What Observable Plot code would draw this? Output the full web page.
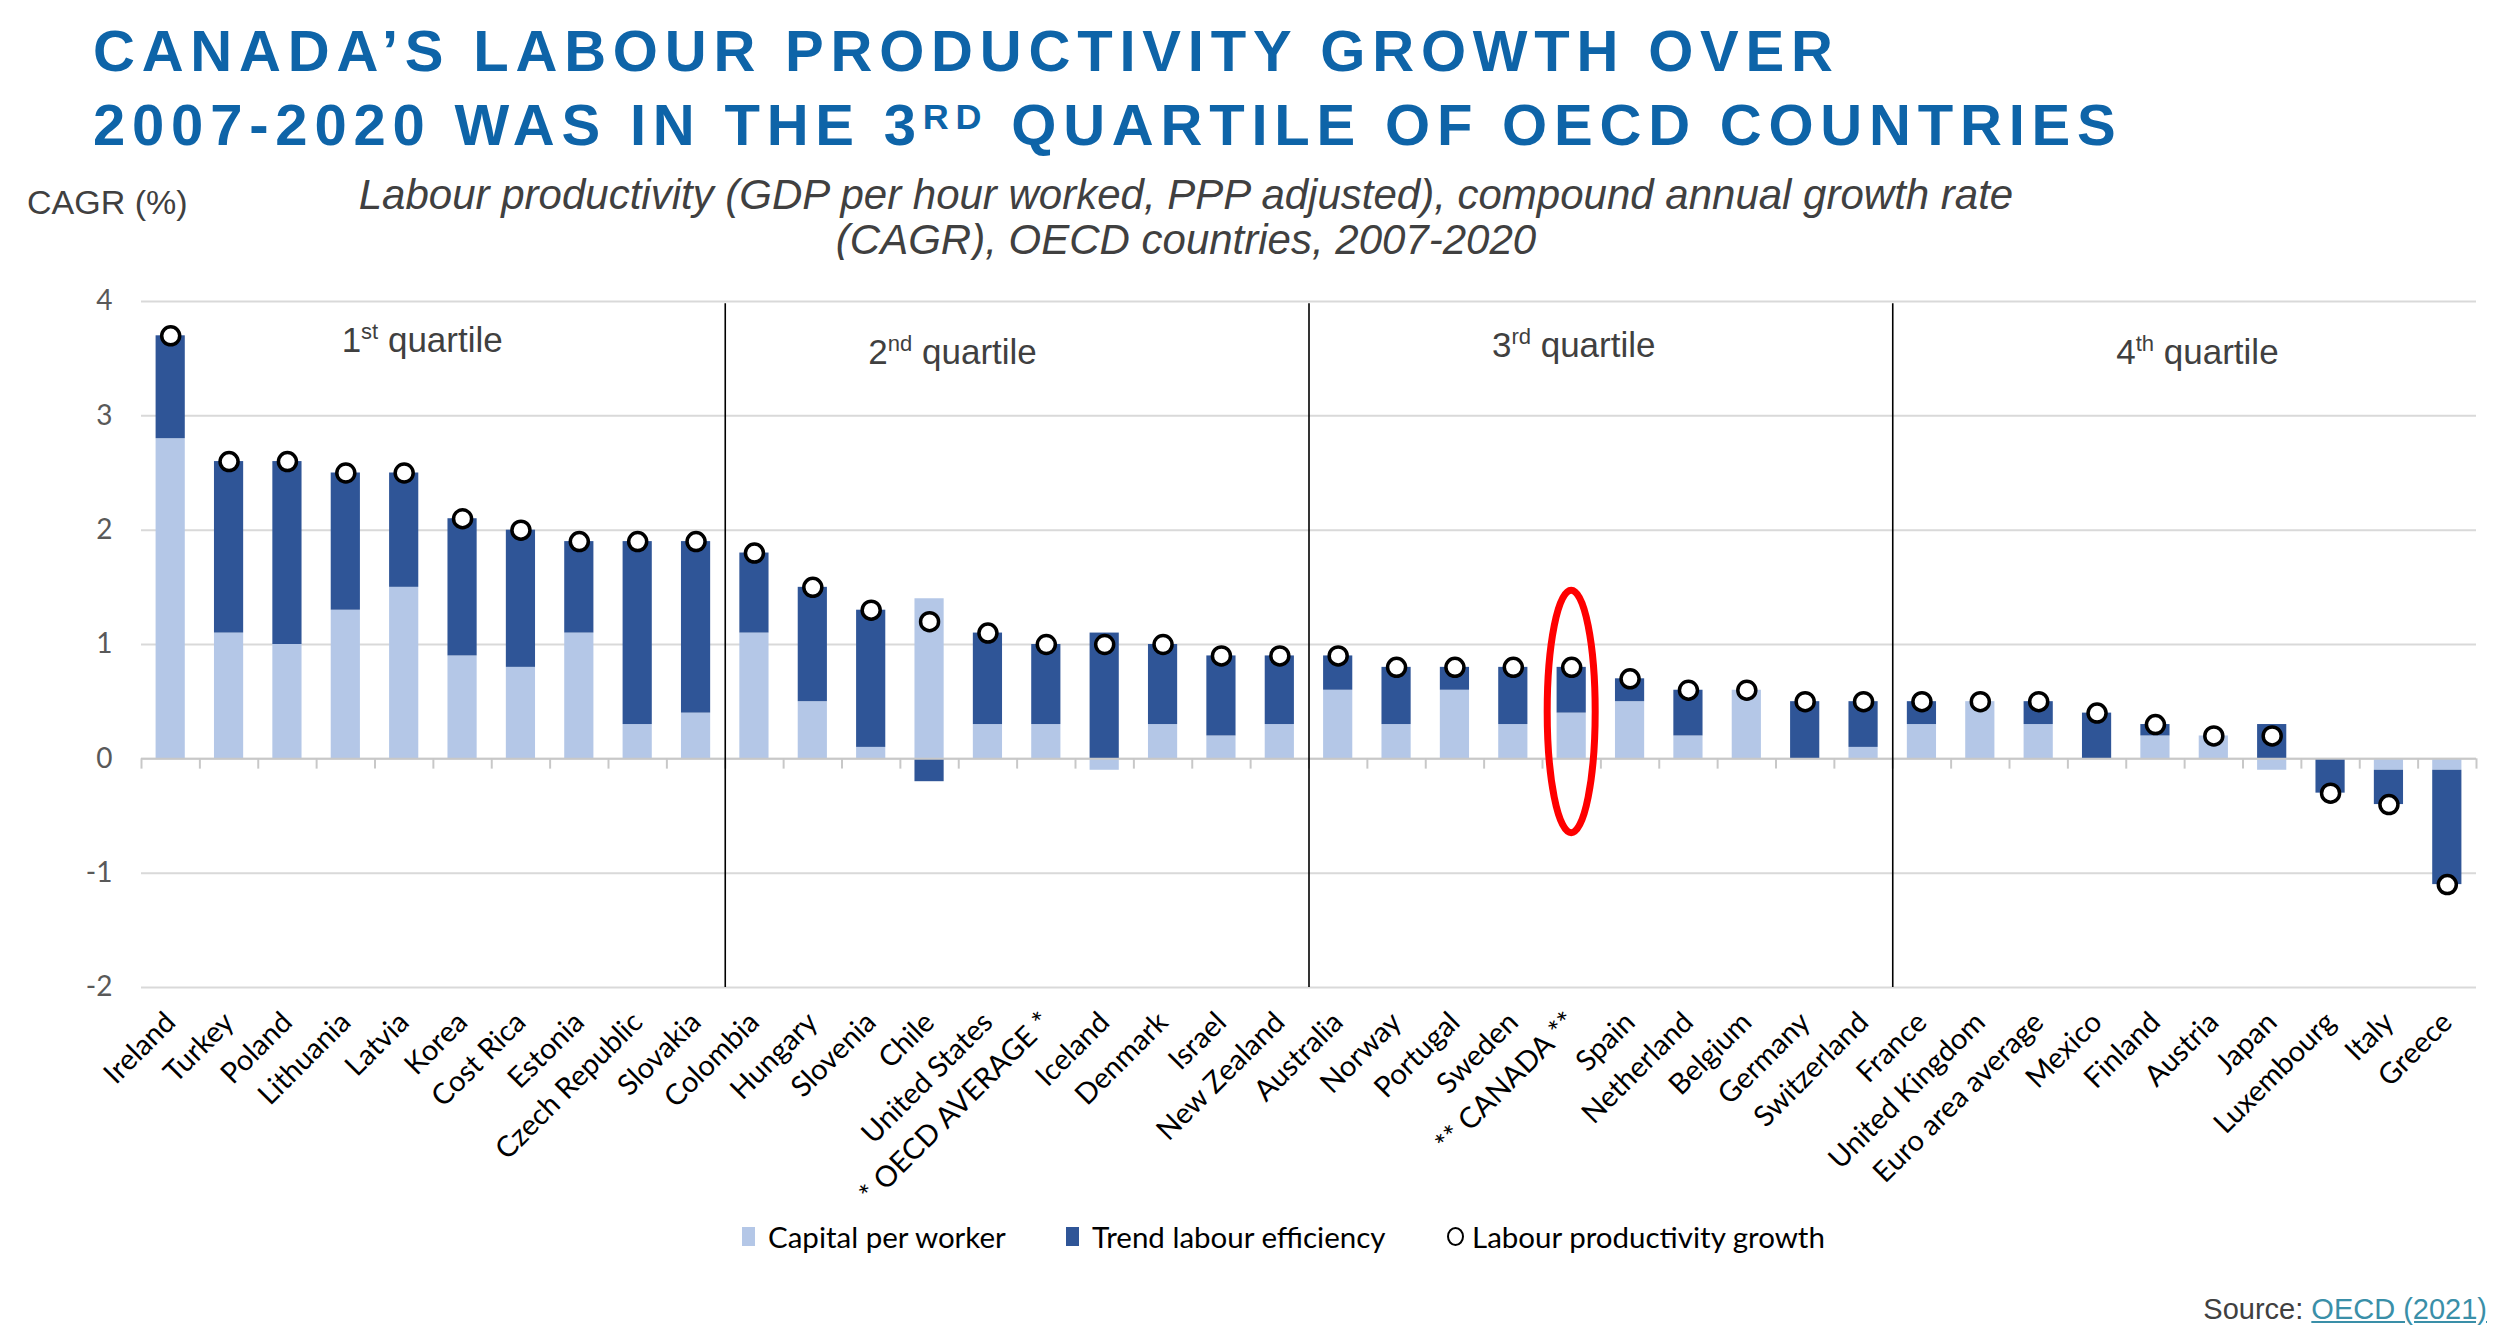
<!DOCTYPE html>
<html>
<head>
<meta charset="utf-8">
<script src="https://cdn.jsdelivr.net/npm/d3@7"></script>
<script src="https://cdn.jsdelivr.net/npm/@observablehq/plot@0.6"></script>
<style>
  html, body { margin: 0; padding: 0; background: #fff; }
  #page { position: relative; width: 2500px; height: 1337px; overflow: hidden; background: #fff; }
  .title { position: absolute; left: 93px; top: 14px; font-family: "Liberation Sans", Arial, sans-serif; font-weight: bold;
           font-size: 58px; line-height: 74px; letter-spacing: 6.8px; color: #0e64a8; white-space: nowrap; }
  .title sup { font-size: 0.62em; vertical-align: 0.44em; line-height: 0; }
  .cagr { position: absolute; left: 27px; top: 183px; font-family: "Liberation Sans", Arial, sans-serif; font-size: 34px; color: #404040; }
  .subtitle { position: absolute; left: 0; width: 2372px; top: 172px; text-align: center; font-family: "Liberation Sans", Arial, sans-serif;
              font-style: italic; font-size: 42px; line-height: 45px; color: #404040; }
  #chart { position: absolute; left: 0; top: 260px; }
  .legend { position: absolute; top: 1218px; left: 0; font-family: Lato, sans-serif; font-size: 29.5px; color: #000; }
  .legend .item { position: absolute; white-space: nowrap; display: flex; align-items: center; height: 36px; }
  .legend .sw { display: inline-block; width: 13px; height: 19px; margin-right: 13px; }
  .legend .circ { display: inline-block; width: 17px; height: 19px; border: 2.5px solid #000; border-radius: 50%; margin-right: 8px; box-sizing: border-box; }
  .source { position: absolute; right: 13px; top: 1293px; font-family: "Liberation Sans", Arial, sans-serif; font-size: 29px; color: #404040; }
  .source span { color: #3a8fa8; text-decoration: underline; }
</style>
</head>
<body>
<div id="page">
  <div class="title">CANADA’S LABOUR PRODUCTIVITY GROWTH OVER<br>2007-2020 WAS IN THE 3<sup>RD</sup> QUARTILE OF OECD COUNTRIES</div>
  <div class="cagr">CAGR (%)</div>
  <div class="subtitle">Labour productivity (GDP per hour worked, PPP adjusted), compound annual growth rate<br>(CAGR), OECD countries, 2007-2020</div>
  <div id="chart"></div>
  <div class="legend">
    <div class="item" style="left:742px"><span class="sw" style="background:#b4c7e7"></span>Capital per worker</div>
    <div class="item" style="left:1066px"><span class="sw" style="background:#2f5597"></span>Trend labour efficiency</div>
    <div class="item" style="left:1447px"><span class="circ"></span>Labour productivity growth</div>
  </div>
  <div class="source">Source: <span>OECD (2021)</span></div>
</div>
<script>
// ---- Data ----
const countries = ["Ireland","Turkey","Poland","Lithuania","Latvia","Korea","Cost Rica","Estonia","Czech Republic","Slovakia",
  "Colombia","Hungary","Slovenia","Chile","United States","* OECD AVERAGE *","Iceland","Denmark","Israel","New Zealand",
  "Australia","Norway","Portugal","Sweden","** CANADA **","Spain","Netherland","Belgium","Germany","Switzerland",
  "France","United Kingdom","Euro area average","Mexico","Finland","Austria","Japan","Luxembourg","Italy","Greece"];
const capitalPerWorker = [2.8,1.1,1.0,1.3,1.5,0.9,0.8,1.1,0.3,0.4,
  1.1,0.5,0.1,1.4,0.3,0.3,-0.1,0.3,0.2,0.3,
  0.6,0.3,0.6,0.3,0.4,0.5,0.2,0.6,0.0,0.1,
  0.3,0.5,0.3,0.0,0.2,0.2,-0.1,0.0,-0.1,-0.1];
const trendLabourEfficiency = [0.9,1.5,1.6,1.2,1.0,1.2,1.2,0.8,1.6,1.5,
  0.7,1.0,1.2,-0.2,0.8,0.7,1.1,0.7,0.7,0.6,
  0.3,0.5,0.2,0.5,0.4,0.2,0.4,0.0,0.5,0.4,
  0.2,0.0,0.2,0.4,0.1,0.0,0.3,-0.3,-0.3,-1.0];
const labourProductivityGrowth = [3.7,2.6,2.6,2.5,2.5,2.1,2.0,1.9,1.9,1.9,
  1.8,1.5,1.3,1.2,1.1,1.0,1.0,1.0,0.9,0.9,
  0.9,0.8,0.8,0.8,0.8,0.7,0.6,0.6,0.5,0.5,
  0.5,0.5,0.5,0.4,0.3,0.2,0.2,-0.3,-0.4,-1.1];
const seriesNames = ["Capital per worker","Trend labour efficiency"];
const seriesColors = ["#b4c7e7","#2f5597"];
const yTicks = [-2,-1,0,1,2,3,4];
const quartileNames = ["1st quartile","2nd quartile","3rd quartile","4th quartile"];
const quartileStarts = ["Colombia","Australia","France"];   // first country of quartiles 2-4
const highlighted = "** CANADA **";

// ---- Build table ----
const table = [];
countries.forEach((c, i) => {
  table.push({country: c, component: seriesNames[0], value: capitalPerWorker[i]});
  table.push({country: c, component: seriesNames[1], value: trendLabourEfficiency[i]});
});
const growth = countries.map((c, i) => ({country: c, value: labourProductivityGrowth[i]}));

const W = 2500, H = 960, mL = 141, mR = 24, mT = 41, mB = 233;
const step = (W - mL - mR) / countries.length;

// quartile label anchors (annotation placement)
const qLabels = [
  {name: quartileNames[0], at: "Latvia", dx: 18, y: 3.66},
  {name: quartileNames[1], at: "Chile", dx: 23, y: 3.55},
  {name: quartileNames[2], at: "** CANADA **", dx: 2, y: 3.61},
  {name: quartileNames[3], at: "Finland", dx: 42, y: 3.55}
];

const plot = Plot.plot({
  width: W, height: H,
  marginLeft: mL, marginRight: mR, marginTop: mT, marginBottom: mB,
  style: {fontFamily: "Lato, sans-serif", background: "white", overflow: "visible"},
  x: {domain: countries, paddingInner: 0.5, paddingOuter: 0.25, round: false, label: null},
  y: {domain: [-2, 4], label: null},
  color: {domain: seriesNames, range: seriesColors},
  marks: [
    Plot.gridY(yTicks, {stroke: "#d9d9d9", strokeOpacity: 1, strokeWidth: 2}),
    Plot.axisY(yTicks, {tickSize: 0, tickPadding: 29, fontSize: 28, fill: "#595959", label: null, tickFormat: d => String(d)}),
    Plot.axisX({tickSize: 0, tickRotate: -45, tickPadding: 30, fontSize: 29, fill: "#000", label: null}),
    Plot.barY(table, {x: "country", y: "value", fill: "component"}),
    Plot.ruleY([0], {stroke: "#c8c8c8", strokeWidth: 2}),
    Plot.ruleX(countries, {x: d => d, dx: -step / 2, y1: 0, y2: -0.09, stroke: "#c8c8c8", strokeWidth: 2}),
    Plot.ruleX([countries[countries.length - 1]], {x: d => d, dx: step / 2, y1: 0, y2: -0.09, stroke: "#c8c8c8", strokeWidth: 2}),
    Plot.ruleX(quartileStarts, {x: d => d, dx: -step / 2, y1: -2, y2: 3.98, stroke: "#000", strokeWidth: 1.6}),
    Plot.dot(growth, {x: "country", y: "value", r: 9, fill: "white", stroke: "black", strokeWidth: 3.5}),
    Plot.text(qLabels, {x: "at", y: "y", text: "name", fontSize: 35, fill: "#404040",
      fontFamily: "Liberation Sans, Arial, sans-serif"})
  ]
});

// Apply per-label offsets and superscripts for ordinal suffixes
const svgSel = d3.select(plot);
svgSel.selectAll("text").each(function() {
  const t = d3.select(this);
  const txt = t.text();
  const m = /^(\d)(st|nd|rd|th) quartile$/.exec(txt);
  if (m) {
    const q = qLabels.find(d => d.name === txt);
    t.attr("transform", `translate(${q.dx},0)` + (t.attr("transform") ? " " + t.attr("transform") : ""));
    t.text(null);
    t.append("tspan").text(m[1]);
    t.append("tspan").attr("font-size", 22).attr("dy", -13).text(m[2]);
    t.append("tspan").attr("dy", 13).text(" quartile");
  }
});

// Red highlight ellipse around Canada, positioned with the plot's own scales
const sx = plot.scale("x"), sy = plot.scale("y");
const cx = sx.apply(highlighted) + sx.bandwidth / 2;
const yTop = 1.47, yBot = -0.65;
const cy = (sy.apply(yTop) + sy.apply(yBot)) / 2;
const ry = (sy.apply(yBot) - sy.apply(yTop)) / 2;
svgSel.append("ellipse")
  .attr("cx", cx).attr("cy", cy).attr("rx", 24).attr("ry", ry)
  .attr("fill", "none").attr("stroke", "#ff0000").attr("stroke-width", 7);

document.getElementById("chart").appendChild(plot);
</script>
</body>
</html>
